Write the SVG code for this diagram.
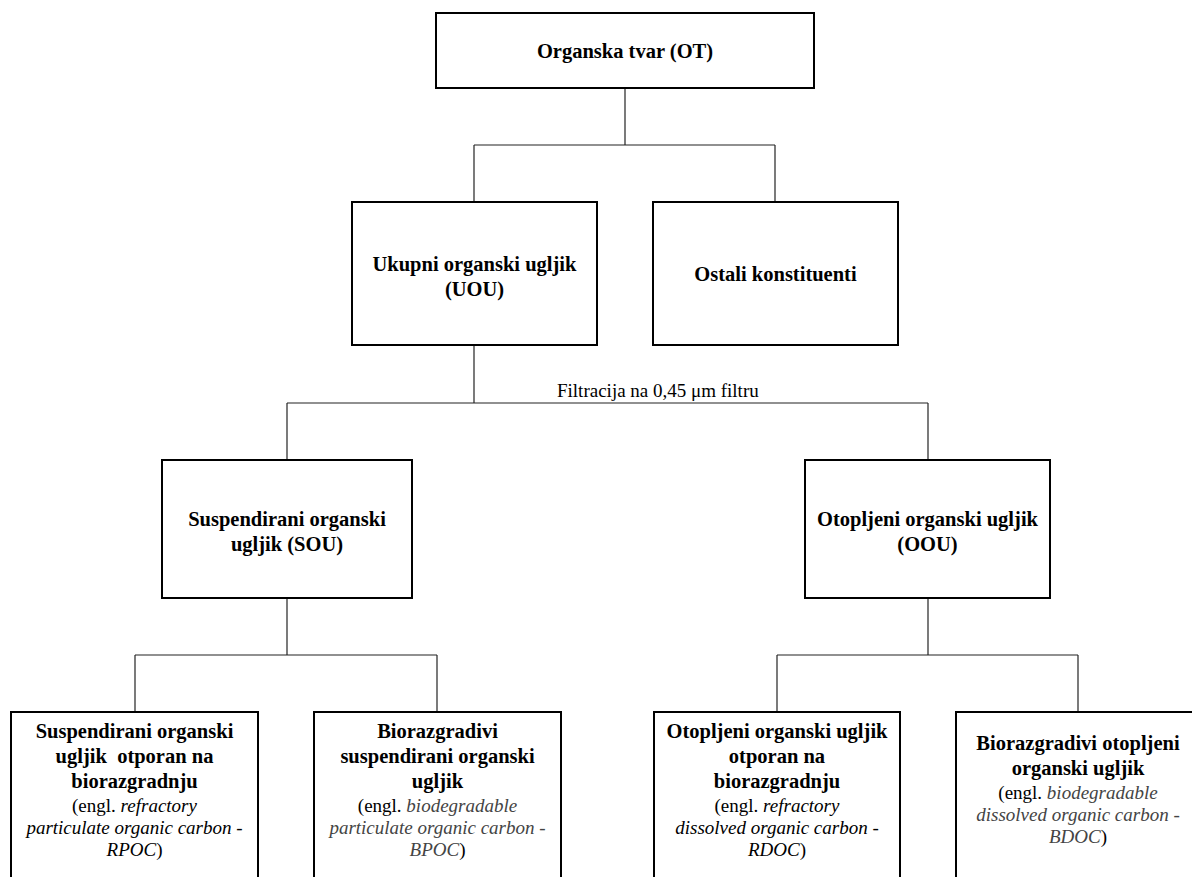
<svg xmlns="http://www.w3.org/2000/svg" width="1192" height="877" viewBox="0 0 1192 877">
<style>
.box{fill:#fff;stroke:#000;stroke-width:2}
.conn line{stroke:#222;stroke-width:1.2}
text{font-family:"Liberation Serif","Times New Roman",serif;fill:#000;text-anchor:middle}
.h{font-size:20.5px;font-weight:bold}
.r{font-size:19px}
.i{font-style:italic}
.g{fill:#444}
.lbl{font-size:19px;text-anchor:start}
</style>
<rect width="1192" height="877" fill="#fff"/>
<g class="conn" id="connectors">
<line x1="625" y1="88" x2="625" y2="145"/>
<line x1="474" y1="145" x2="775" y2="145"/>
<line x1="474" y1="145" x2="474" y2="202"/>
<line x1="775" y1="145" x2="775" y2="202"/>
<line x1="474" y1="345" x2="474" y2="403"/>
<line x1="287" y1="403" x2="928" y2="403"/>
<line x1="287" y1="403" x2="287" y2="460"/>
<line x1="928" y1="403" x2="928" y2="460"/>
<line x1="287" y1="598" x2="287" y2="655"/>
<line x1="135" y1="655" x2="437" y2="655"/>
<line x1="135" y1="655" x2="135" y2="712"/>
<line x1="437" y1="655" x2="437" y2="712"/>
<line x1="928" y1="598" x2="928" y2="655"/>
<line x1="777" y1="655" x2="1078" y2="655"/>
<line x1="777" y1="655" x2="777" y2="712"/>
<line x1="1078" y1="655" x2="1078" y2="712"/>
<text class="lbl" x="557" y="397">Filtracija na 0,45 μm filtru</text>
</g>
<g id="ot">
<rect class="box" x="436" y="13" width="378" height="75"/>
<text class="h" x="625" y="58">Organska tvar (OT)</text>
</g>
<g id="uou">
<rect class="box" x="352" y="202" width="245" height="143"/>
<text class="h" x="474.5" y="271">Ukupni organski ugljik</text>
<text class="h" x="474.5" y="296">(UOU)</text>
</g>
<g id="ostali">
<rect class="box" x="653" y="202" width="245" height="143"/>
<text class="h" x="775.5" y="281">Ostali konstituenti</text>
</g>
<g id="sou">
<rect class="box" x="162" y="460" width="250" height="138"/>
<text class="h" x="287" y="526">Suspendirani organski</text>
<text class="h" x="287" y="551">ugljik (SOU)</text>
</g>
<g id="oou">
<rect class="box" x="805" y="460" width="245" height="138"/>
<text class="h" x="927.5" y="526">Otopljeni organski ugljik</text>
<text class="h" x="927.5" y="551">(OOU)</text>
</g>
<g id="rpoc">
<rect class="box" x="11" y="712" width="247" height="180"/>
<text class="h" x="134.5" y="738">Suspendirani organski</text>
<text class="h" x="134.5" y="763" style="white-space:pre">ugljik  otporan na</text>
<text class="h" x="134.5" y="788">biorazgradnju</text>
<text class="r" x="134.5" y="812">(engl. <tspan class="i">refractory</tspan></text>
<text class="r i" x="134.5" y="834">particulate organic carbon -</text>
<text class="r" x="134.5" y="856"><tspan class="i">RPOC</tspan>)</text>
</g>
<g id="bpoc">
<rect class="box" x="314" y="712" width="247" height="180"/>
<text class="h" x="437.5" y="738">Biorazgradivi</text>
<text class="h" x="437.5" y="763">suspendirani organski</text>
<text class="h" x="437.5" y="788">ugljik</text>
<text class="r" x="437.5" y="812">(engl. <tspan class="i g">biodegradable</tspan></text>
<text class="r i g" x="437.5" y="834">particulate organic carbon -</text>
<text class="r" x="437.5" y="856"><tspan class="i g">BPOC</tspan>)</text>
</g>
<g id="rdoc">
<rect class="box" x="654" y="712" width="246" height="180"/>
<text class="h" x="777" y="738">Otopljeni organski ugljik</text>
<text class="h" x="777" y="763">otporan na</text>
<text class="h" x="777" y="788">biorazgradnju</text>
<text class="r" x="777" y="812">(engl. <tspan class="i">refractory</tspan></text>
<text class="r i" x="777" y="834">dissolved organic carbon -</text>
<text class="r" x="777" y="856"><tspan class="i">RDOC</tspan>)</text>
</g>
<g id="bdoc">
<rect class="box" x="956" y="712" width="245" height="180"/>
<text class="h" x="1078" y="750">Biorazgradivi otopljeni</text>
<text class="h" x="1078" y="775">organski ugljik</text>
<text class="r" x="1078" y="799">(engl. <tspan class="i g">biodegradable</tspan></text>
<text class="r i g" x="1078" y="821">dissolved organic carbon -</text>
<text class="r" x="1078" y="843"><tspan class="i g">BDOC</tspan>)</text>
</g>
</svg>
